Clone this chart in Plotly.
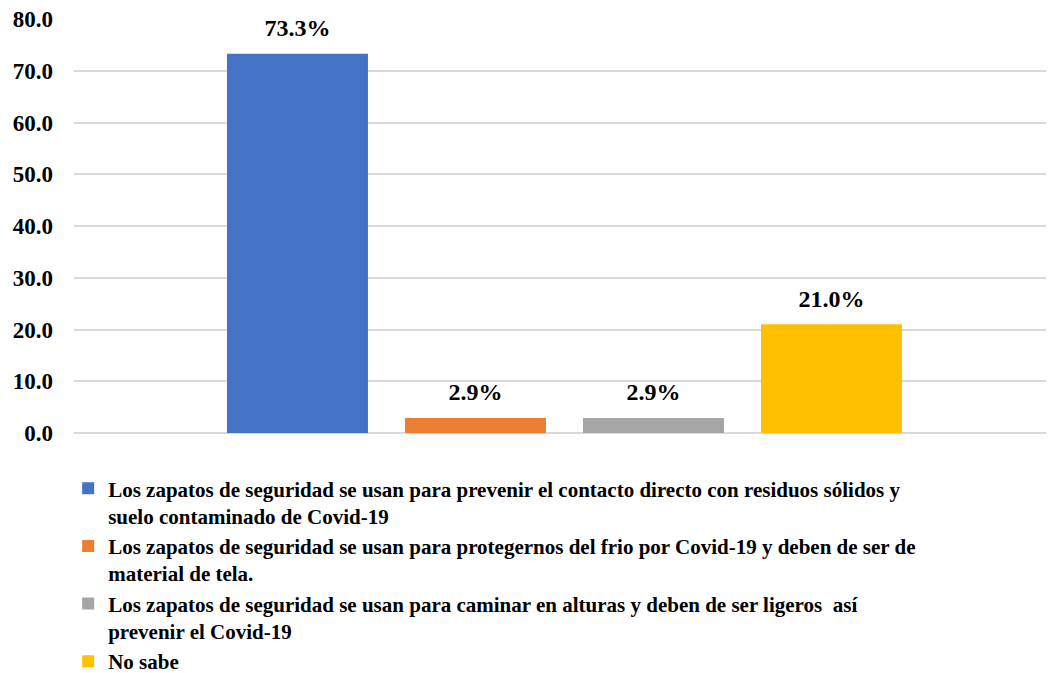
import plotly.graph_objects as go

category = ["Respuesta"]
series_names = [
    "Los zapatos de seguridad se usan para prevenir el contacto directo con residuos sólidos y<br>suelo contaminado de Covid-19",
    "Los zapatos de seguridad se usan para protegernos del frio por Covid-19 y deben de ser de<br>material de tela.",
    "Los zapatos de seguridad se usan para caminar en alturas y deben de ser ligeros  así<br>prevenir el Covid-19",
    "No sabe",
]
series_values = [73.3, 2.9, 2.9, 21.0]
series_colors = ["#4472C4", "#ED7D31", "#A5A5A5", "#FFC000"]

FONT = "Liberation Serif, Times New Roman, serif"
BARGAP = 0.2675

fig = go.Figure()
for i, (name, val, col) in enumerate(zip(series_names, series_values, series_colors)):
    fig.add_trace(go.Bar(
        x=category, y=[val], name=name,
        marker=dict(color=col, line=dict(width=0)),
        offsetgroup=f"s{i}", legendgroup=f"g{i}",
    ))
for i, val in enumerate(series_values):
    fig.add_trace(go.Scatter(
        x=category, y=[val], mode="markers+text", text=[f"{val:.1f}%"],
        textposition="top center", cliponaxis=False,
        marker=dict(size=17, opacity=0, color="white"),
        textfont=dict(family=FONT, size=24, color="black", weight="bold"),
        offsetgroup=f"s{i}", showlegend=False, hoverinfo="skip",
    ))

fig.update_layout(
    width=1048, height=673,
    margin=dict(l=74, r=2, t=19, b=240, autoexpand=False),
    paper_bgcolor="white", plot_bgcolor="white",
    barmode="group", bargap=BARGAP, bargroupgap=0.208,
    scattermode="group", scattergap=BARGAP,
    font=dict(family=FONT, color="black"),
    showlegend=True,
    legend=dict(
        orientation="v", x=-0.006, xanchor="left", y=-0.085, yanchor="top",
        font=dict(family=FONT, size=21, color="black", weight="bold"),
        valign="top", tracegroupgap=0, traceorder="normal",
        bgcolor="rgba(0,0,0,0)",
    ),
)
fig.update_xaxes(showticklabels=False, showgrid=False, zeroline=False,
                 showline=False, range=[-0.5046, 0.4954])
fig.update_yaxes(range=[0, 80], dtick=10, tickformat=".1f",
                 showgrid=True, gridcolor="#D9D9D9", gridwidth=1.5,
                 zeroline=True, zerolinecolor="#D9D9D9", zerolinewidth=1.5,
                 showline=False, ticks="", ticklabelstandoff=20,
                 tickfont=dict(family=FONT, size=23, color="black", weight="bold"))

fig.write_html("out.html", config={"displayModeBar": False},
               post_script="document.body.style.margin='0';document.body.style.overflow='hidden';")
